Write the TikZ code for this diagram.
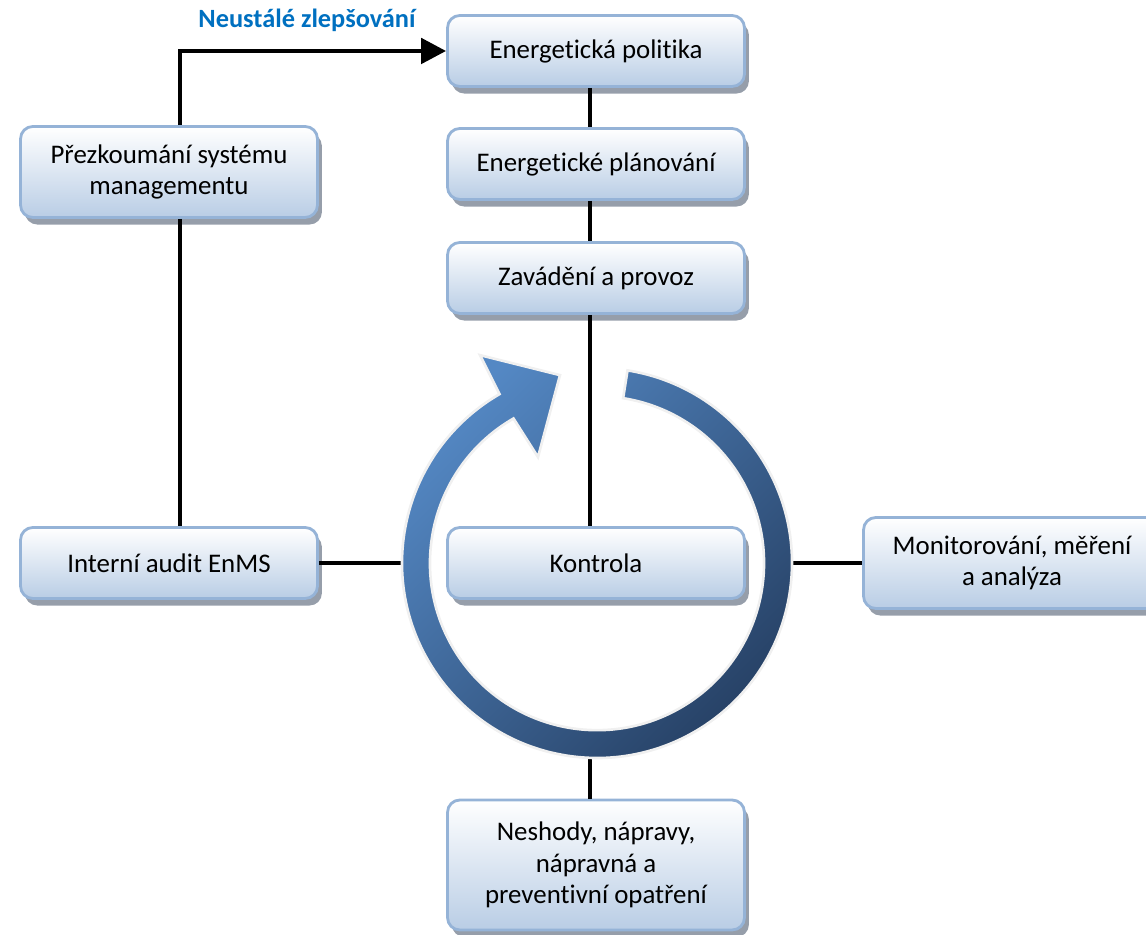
\documentclass[tikz,border=0pt]{standalone}
\usepackage{fontspec}
\setmainfont{Carlito}[Ligatures={NoCommon}]
\usetikzlibrary{shadows,arrows.meta}
\definecolor{boxline}{RGB}{149,179,215}
\definecolor{boxbottom}{RGB}{185,205,229}
\definecolor{boxshadow}{RGB}{150,158,170}
\definecolor{ringlight}{RGB}{84,136,196}
\definecolor{ringdark}{RGB}{38,64,100}
\definecolor{labelblue}{RGB}{0,112,192}
\tikzset{
  stage/.style={draw=boxline, line width=1.6pt, rounded corners=7pt,
    top color=white, bottom color=boxbottom,
    minimum width=5.94cm, minimum height=1.42cm, align=center,
    font=\fontsize{15.3}{18}\selectfont,
    drop shadow={shadow xshift=2.5pt, shadow yshift=-4pt, fill=boxshadow, opacity=1}},
  link/.style={line width=2.8pt},
  ring/.style={top color=ringlight, bottom color=ringdark, shading angle=45,
    draw=black!6, line width=1.5pt}
}

\begin{document}
\begin{tikzpicture}[x=0.02cm, y=0.02cm]
    \useasboundingbox (0, 0) rectangle (1146, 935);
    % stages
    \node[stage] (pol) at (596, 884) {Energetická politika};
    \node[stage] (plan) at (596, 771) {Energetické plánování};
    \node[stage] (impl) at (596, 657) {Zavádění a provoz};
    \node[stage, minimum height=1.82cm] (rev) at (169, 763) {Přezkoumání systému\\managementu};
    \node[stage] (audit) at (169, 372) {Interní audit EnMS};
    \node[stage] (check) at (596, 372) {Kontrola};
    \node[stage, minimum height=1.82cm] (mon) at (1012, 372) {Monitorování, měření\\a analýza};
    \node[stage, minimum height=2.6cm] (nesh) at (596, 70) {Neshody, nápravy,\\nápravná a\\preventivní opatření};
    \node[font=\bfseries\fontsize{15}{17}\selectfont, text=labelblue] (improve) at (307, 915) {Neustálé zlepšování};
    % helper points
    \coordinate (spine) at (590, 372);
    \coordinate (loop) at (180, 885);
    \coordinate (c) at (597, 372);
    \coordinate (ringW) at (412, 372);
    \coordinate (ringE) at (782, 372);
    \coordinate (ringS) at (590, 187);
    % connectors
    \draw[link] (pol.south -| spine) -- (plan.north -| spine);
    \draw[link] (plan.south -| spine) -- (impl.north -| spine);
    \draw[link] (impl.south -| spine) -- (check.north -| spine);
    \draw[link] (ringS) -- (nesh.north -| spine);
    \draw[link] (audit.east) -- (ringW);
    \draw[link] (ringE) -- (mon.west);
    \draw[link] (rev.south -| loop) -- (audit.north -| loop);
    \draw[link, -{Triangle[length=0.5cm, width=0.5cm]}] (rev.north -| loop) |- (pol.west);
    % cycle arrow
    \shadedraw[ring] (c) ++(81:195) arc[start angle=81, end angle=-240, radius=195]
        -- ++(-19.5, 39) -- ++(80, -20) -- ++(-22, -82) -- ++(-24.5, 38.6)
        arc[start angle=-240, end angle=81, radius=167] -- cycle;
\end{tikzpicture}
\end{document}
